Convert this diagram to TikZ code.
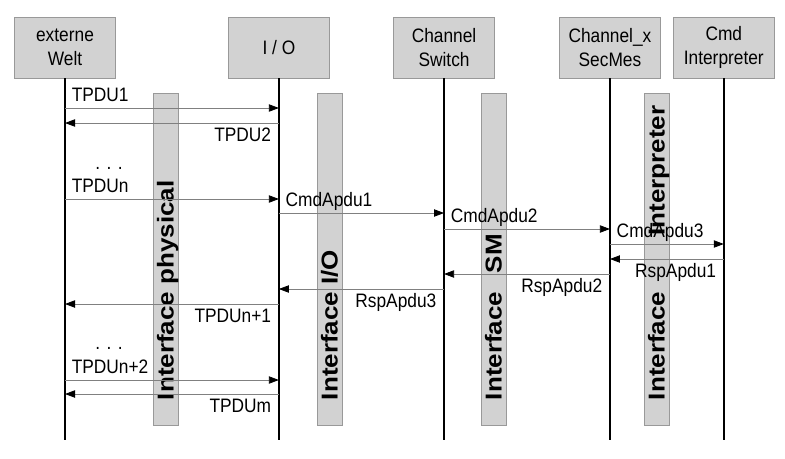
\documentclass[tikz,border=0pt]{standalone}
\usepackage{fontspec}
\setmainfont{Liberation Sans}
\newfontfamily\msgfont[FakeStretch=0.89]{Liberation Sans}
\newfontfamily\barfont[FakeStretch=1.13]{Liberation Sans}
\usetikzlibrary{
    arrows.meta,
    positioning
}

\begin{document}
\begin{tikzpicture}[
            x=0.75pt, y=-0.75pt,
            txt/.style={font=\msgfont\fontsize{14.6}{18}\selectfont},
            block/.style={draw=gray!80, fill=gray!35, align=center, inner sep=0pt, minimum width=76pt, minimum height=45.75pt, txt},
            life/.style={line width=1.4pt},
            msg/.style={draw=gray, line width=0.6pt, -{Triangle[length=7.5pt, width=5.5pt, color=black]}},
            fwd/.style={pos=0, anchor=base west, inner sep=0pt, xshift=4.8pt, yshift=4.9pt, txt},
            bwd/.style={pos=0, anchor=base east, inner sep=0pt, xshift=-5.5pt, yshift=-13.9pt, txt},
            bar/.style={draw=gray!80, fill=gray!35, inner sep=0pt, minimum width=18.75pt, minimum height=249pt},
            barlbl/.style={rotate=90, anchor=base west, inner sep=0pt, font=\barfont\bfseries\fontsize{17.25}{17.25}\selectfont},
        ]
            \useasboundingbox (0,0) rectangle (785,458);

            % ====== Participants ======
            \node[block] (welt) at (65,47.5) {externe\\Welt};
            \node[block, right=84pt of welt] (io) {I / O};
            \node[block, right=47.5pt of io] (switch) {Channel\\Switch};
            \node[block, right=48pt of switch] (secmes) {Channel\_x\\SecMes};
            \node[block, right=9pt of secmes] (interp) {Cmd\\Interpreter};

            % ====== Interface bars ======
            \node[bar] (phys) at (165.5,259) {};
            \node[bar] (iobar) at (329.5,259) {};
            \node[bar] (smbar) at (493.5,259) {};
            \node[bar] (intbar) at (656.5,259) {};

            \node[barlbl] at ([shift={(8.2,-25)}]phys.south) {Interface physical};
            \node[barlbl] at ([shift={(8.2,-25)}]iobar.south) {Interface I/O};
            \node[barlbl] at ([shift={(8.2,-25)}]smbar.south) {Interface\hspace{14pt}SM};
            \node[barlbl] at ([shift={(8.2,-25)}]intbar.south) {Interface\hspace{42pt}Interpreter};

            % ====== Lifelines ======
            \coordinate (bottom) at (0,440);
            \draw[life] (welt.south) -- (welt.south |- bottom);
            \draw[life] (io.south) -- (io.south |- bottom);
            \draw[life] (switch.south) -- (switch.south |- bottom);
            \draw[life] (secmes.south) -- (secmes.south |- bottom);
            \draw[life] (interp.south) -- (interp.south |- bottom);

            % ====== Messages ======
            \draw[msg] (welt |- 0,108) -- (io |- 0,108) node[fwd] {TPDU1};
            \draw[msg] (io |- 0,123) -- (welt |- 0,123) node[bwd] {TPDU2};
            \node[txt, anchor=base] (dots1) at (109,169) {. . .};
            \draw[msg] (welt |- 0,199) -- (io |- 0,199) node[fwd] {TPDUn};
            \draw[msg] (io |- 0,213) -- (switch |- 0,213) node[fwd] {CmdApdu1};
            \draw[msg] (switch |- 0,229) -- (secmes |- 0,229) node[fwd] {CmdApdu2};
            \draw[msg] (secmes |- 0,244) -- (interp |- 0,244) node[fwd] {CmdApdu3};
            \draw[msg] (interp |- 0,259) -- (secmes |- 0,259) node[bwd] {RspApdu1};
            \draw[msg] (secmes |- 0,274) -- (switch |- 0,274) node[bwd] {RspApdu2};
            \draw[msg] (switch |- 0,289) -- (io |- 0,289) node[bwd] {RspApdu3};
            \draw[msg] (io |- 0,304) -- (welt |- 0,304) node[bwd] {TPDUn+1};
            \node[txt, anchor=base] (dots2) at (109,349) {. . .};
            \draw[msg] (welt |- 0,380) -- (io |- 0,380) node[fwd] {TPDUn+2};
            \draw[msg] (io |- 0,394) -- (welt |- 0,394) node[bwd] {TPDUm};
        \end{tikzpicture}
\end{document}
